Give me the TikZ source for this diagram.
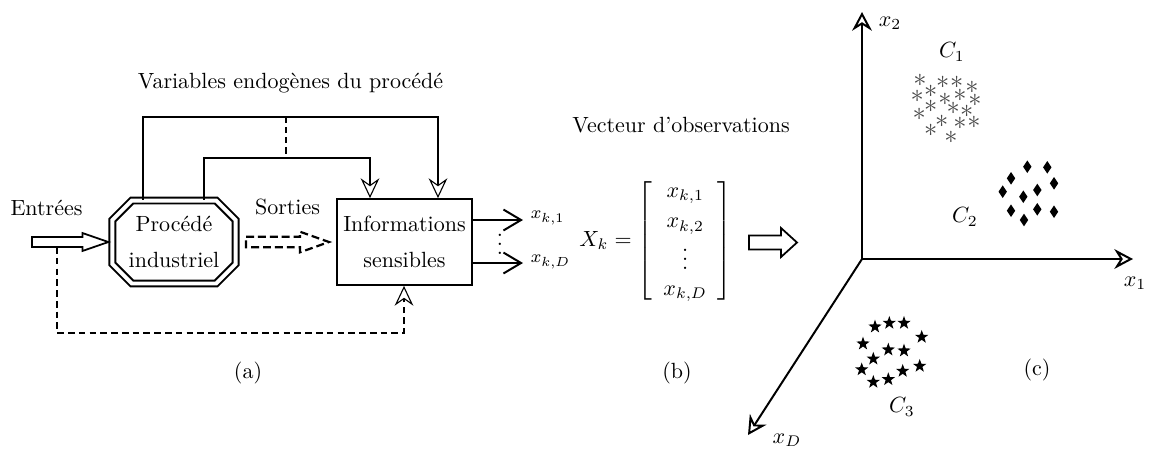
\documentclass[tikz,border=0pt]{standalone}
\usepackage{fontspec}
\usepackage{amsmath,amssymb}
\usetikzlibrary{arrows.meta,shapes.misc,shapes.geometric,calc}

\begin{document}
\begin{tikzpicture}[x=0.4545pt,y=-0.4545pt,
  link/.style={line width=0.5pt},
  openhead/.style={-{Stealth[open,length=9pt,width=8.5pt,inset=3pt]}},
  procbox/.style={chamfered rectangle,chamfered rectangle angle=45,
    chamfered rectangle xsep=6pt,draw,double,line width=0.9pt,
    double distance=1.8pt,minimum width=56pt,minimum height=37.7pt,
    align=center,inner sep=0pt},
  infobox/.style={draw,line width=0.9pt,minimum width=61.4pt,
    minimum height=39pt,align=center,inner sep=0pt},
  fatarrow/.style={draw,line width=0.8pt,line join=miter},
  outarrow/.style={line width=0.9pt,-{Straight Barb[length=8pt,width=9.5pt]}},
  axis/.style={line width=0.9pt,-{Stealth[open,length=8.5pt,width=9pt,inset=2.8pt]}},
  astmark/.style={inner sep=0pt,text=black!72,font=\fontsize{13}{13}\selectfont},
  starmark/.style={star,star points=5,star point ratio=2.5,fill=black,
    inner sep=0pt,minimum size=6.4pt},
  dmd/.pic={\fill (0,-6.3) -- (4.2,0) -- (0,6.3) -- (-4.2,0) -- cycle;}
]
\useasboundingbox (0,0) rectangle (1150,449);

% ---------- (a) the process ----------
\node (endog) at (290.5,83) {Variables endogènes du procédé};
\node (entrees) at (46.5,208) {Entrées};
\node (sorties) at (287.5,207) {Sorties};
\node[procbox] (proc) at (174,242) {Procédé\\[4pt]industriel};
\node[infobox] (info) at (404.5,242) {Informations\\[4.4pt]sensibles};

% input arrow
\coordinate (i0) at (32,242);
\coordinate (i1) at ($(proc.west)+(-3,0)$);
\draw[fatarrow] ($(i0)+(0,-5)$) -- ($(i1)+(-26,-5)$) -- ($(i1)+(-26,-9)$)
  -- (i1) -- ($(i1)+(-26,9)$) -- ($(i1)+(-26,5)$) -- ($(i0)+(0,5)$) -- cycle;

% outputs of the process (dashed hollow arrow)
\coordinate (s0) at ($(proc.east)+(9.5,0)$);
\coordinate (s1) at ($(info.west)+(-7,0)$);
\draw[fatarrow,line width=1pt,dash pattern=on 3.6pt off 1.8pt]
  ($(s0)+(0,-5.3)$) -- ($(s1)+(-29,-5.3)$) -- ($(s1)+(-29,-10.3)$)
  -- (s1) -- ($(s1)+(-29,10.3)$) -- ($(s1)+(-29,5.3)$) -- ($(s0)+(0,5.3)$) -- cycle;

% endogenous variables
\coordinate (ol) at (143,117);
\coordinate (or) at (438,117);
\coordinate (il) at (204,158);
\coordinate (ir) at (370,158);
\draw[link,openhead] (proc.north -| ol) -- (ol) -- (or) -- (info.north -| or);
\draw[link,openhead] (proc.north -| il) -- (il) -- (ir) -- (info.north -| ir);
\coordinate (dt) at (286,117);
\coordinate (db) at (286,158);
\draw[line width=1.3pt,dash pattern=on 2.8pt off 1.8pt] (dt) -- (db);

% inputs also fed to the information block
\coordinate (tap) at (57,247);
\coordinate (b1) at (57,333);
\coordinate (b2) at (404,333);
\draw[link,openhead,dash pattern=on 3pt off 1.9pt] (tap) -- (b1) -- (b2) -- (info.south -| b2);

% sensor outputs
\coordinate (t1) at (523,220);
\coordinate (tD) at (523,263);
\draw[outarrow] (info.east |- t1) -- (t1);
\draw[outarrow] (info.east |- tD) -- (tD);
\node[anchor=west,inner sep=2pt,font=\footnotesize] (l1) at ($(t1)+(3,-2)$) {$x_{k,1}$};
\node[anchor=west,inner sep=2pt,font=\footnotesize] (lD) at ($(tD)+(3,-1)$) {$x_{k,D}$};
\node[anchor=base,inner sep=0pt] (vd) at (500,254.5) {$\vdots$};

\node (capa) at (248,373) {(a)};

% ---------- (b) observation vector ----------
\node (vtitle) at (681,125) {Vecteur d'observations};
\node (vec) at (656,241) {$X_k=\left[\begin{array}{c} x_{k,1}\\[2pt] x_{k,2}\\ \vdots\\ x_{k,D}\end{array}\right]$};
\coordinate (v0) at (749,242.5);
\coordinate (v1) at (797,242.5);
\draw[fatarrow] ($(v0)+(0,-7)$) -- ($(v1)+(-16,-7)$) -- ($(v1)+(-16,-14.5)$)
  -- (v1) -- ($(v1)+(-16,14.5)$) -- ($(v1)+(-16,7)$) -- ($(v0)+(0,7)$) -- cycle;
\node (capb) at (677,373) {(b)};

% ---------- (c) feature space ----------
\coordinate (O) at (862,259);
\coordinate (X1) at (1133,259);
\coordinate (X2) at (862,12);
\coordinate (XD) at (748,435);
\draw[axis] (O) -- (X1);
\draw[axis] (O) -- (X2);
\draw[axis] (O) -- (XD);
\node (lx1) at (1135,283) {$x_1$};
\node (lx2) at (890,23) {$x_2$};
\node (lxD) at (787,440) {$x_D$};

\node (c1) at (952,52) {$C_1$};
\node (c2) at (965,217) {$C_2$};
\node (c3) at (902,407) {$C_3$};

\foreach \p [count=\i] in {(920,80.7),(942.7,82.7),(956.7,82.7),(972,87.3),
  (930.7,91.7),(917.3,96.7),(960,95),(945,99.3),(975,100.7),(930.7,106),
  (953.3,108.3),(919.3,114),(966.7,111.7),(941.7,121),(960,123.3),
  (974,122.7),(930.7,130.7),(951,137.3)}
  \node[astmark] (ast\i) at \p {$\ast$};

\foreach \p in {(1027.3,166.7),(1047.3,167.3),(1011,178.3),(1054,183.3),
  (1002.7,191.7),(1037.3,190),(1023.3,196.7),(1011,210.7),(1037.3,209.3),
  (1054,211.7),(1024,220)}
  \pic at \p {dmd};

\foreach \p [count=\i] in {(875,326.7),(889.3,323),(904,323),(921.7,337),
  (863,343.7),(888.3,349.7),(904,350.7),(873.3,358.8),(861.7,369.5),
  (919.7,366),(902.7,371),(873.3,382),(888.3,379.3)}
  \node[starmark] (st\i) at \p {};

\node (capc) at (1037,370) {(c)};
\end{tikzpicture}
\end{document}
